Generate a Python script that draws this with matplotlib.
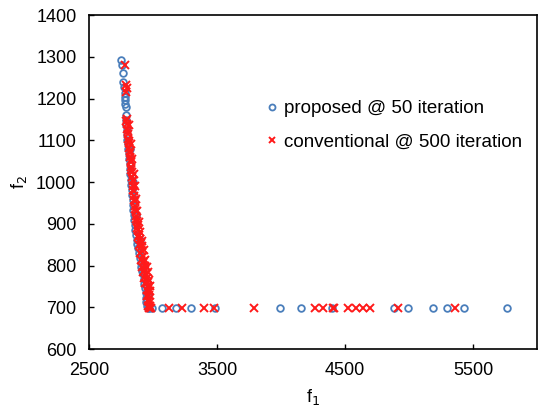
import matplotlib
matplotlib.use('Agg')
import matplotlib.pyplot as plt
import numpy as np

plt.rcParams['font.family'] = ['Liberation Sans', 'DejaVu Sans']

# proposed @ 50 iteration (blue circles)
proposed_f1 = [
    2753, 2758, 2764, 2766, 2772, 2780, 2782, 2784, 2785, 2786, 2790,
    2788, 2792, 2795, 2798, 2800, 2803, 2806, 2810, 2814, 2817, 2820, 2824,
    2829, 2832, 2835, 2838, 2841, 2844, 2847, 2850, 2853, 2856, 2862, 2866,
    2872, 2878, 2886, 2892, 2898, 2904, 2910, 2916, 2921, 2926, 2932, 2938,
    2945, 2946, 2948, 2950, 2958, 2968,
    2820, 2845, 2870, 2895, 2930, 2955, 2962,
    2996, 3074, 3182, 3298, 3484, 3996, 4159, 4399, 4880, 4996, 5190, 5299,
    5430, 5764,
]
proposed_f2 = [
    1292, 1280, 1262, 1240, 1228, 1214, 1204, 1196, 1188, 1180, 1160,
    1148, 1136, 1124, 1112, 1100, 1090, 1078, 1066, 1054, 1042, 1030, 1018,
    1004, 992, 980, 968, 956, 944, 932, 920, 908, 898, 886, 874,
    862, 852, 842, 830, 818, 806, 796, 786, 780, 768, 756, 746,
    734, 722, 712, 704, 698, 698,
    1080, 1000, 920, 860, 800, 760, 730,
    698, 698, 698, 698, 698, 698, 698, 698, 698, 698, 698, 698,
    698, 698,
]

# conventional @ 500 iteration (red crosses)
conventional_f1 = [
    2784, 2791, 2797, 2793, 2791, 2795,
    2796, 2800, 2804, 2808, 2812, 2816, 2819, 2822, 2826, 2830, 2834, 2838,
    2842, 2846, 2850, 2854, 2858, 2862, 2866, 2870, 2875, 2880, 2885, 2892,
    2898, 2905, 2912, 2916, 2922, 2928, 2934, 2940, 2946, 2952, 2958, 2962,
    2966, 2970, 2972, 2974, 2975, 2966, 2978,
    2808, 2815, 2820, 2828, 2832, 2840, 2845, 2850, 2858, 2864, 2872, 2880,
    2890, 2898, 2906, 2914, 2924, 2932, 2940, 2950, 2956, 2960, 2958,
    2812, 2825, 2835, 2850, 2860, 2868, 2878, 2888, 2900, 2918, 2928, 2940,
    2950, 2960, 2968, 2976, 2980,
    2988, 3128, 3229, 3399, 3477, 3787, 4267, 4329, 4407, 4415, 4523, 4585,
    4640, 4694, 4911, 5360,
]
conventional_f2 = [
    1280, 1232, 1224, 1216, 1146, 1152,
    1140, 1128, 1116, 1104, 1094, 1082, 1070, 1060, 1048, 1036, 1024, 1012,
    1002, 990, 978, 966, 954, 942, 930, 918, 906, 898, 886, 874,
    864, 854, 846, 834, 822, 810, 800, 790, 780, 770, 760, 750,
    740, 730, 720, 712, 704, 698, 698,
    1122, 1098, 1074, 1050, 1028, 1006, 980, 958, 936, 912, 890, 868,
    848, 830, 812, 796, 784, 770, 758, 742, 726, 714, 704,
    1136, 1090, 1055, 1020, 990, 960, 930, 905, 880, 858, 836, 812,
    796, 784, 766, 752, 740,
    698, 698, 698, 698, 698, 698, 698, 698, 698, 698, 698, 698,
    698, 698, 698, 698,
]

x_ticks = [2500, 3500, 4500, 5500]
y_ticks = [600, 700, 800, 900, 1000, 1100, 1200, 1300, 1400]

fig = plt.figure(figsize=(5.41, 4.08), dpi=100)
ax = fig.add_axes([0.1645, 0.1446, 0.8281, 0.8186])

ax.plot(proposed_f1, proposed_f2, linestyle='none', marker='o', markersize=4.8,
        markerfacecolor='none', markeredgecolor='#4A7EBB', markeredgewidth=1.3,
        label='proposed @ 50 iteration')
ax.plot(conventional_f1, conventional_f2, linestyle='none', marker='x', markersize=5.5,
        color='#FF1A1A', markeredgewidth=1.4, label='conventional @ 500 iteration')

ax.set_xlim(2500, 6000)
ax.set_ylim(600, 1400)
ax.set_xticks(x_ticks)
ax.set_yticks(y_ticks)
ax.tick_params(direction='in', length=3.5, width=1, labelsize=13, pad=9)
for sp in ax.spines.values():
    sp.set_linewidth(1.2)

ax.set_xlabel('f$_1$', fontsize=13, labelpad=6)
ax.set_ylabel('f$_2$', fontsize=13, labelpad=5)

ax.legend(loc='upper left', bbox_to_anchor=(0.397, 0.745), frameon=False,
          fontsize=13.5, handlelength=0.5, handletextpad=0.4, labelspacing=0.85,
          borderpad=0, borderaxespad=0, markerscale=0.9)

fig.savefig('out.png', dpi=100)
